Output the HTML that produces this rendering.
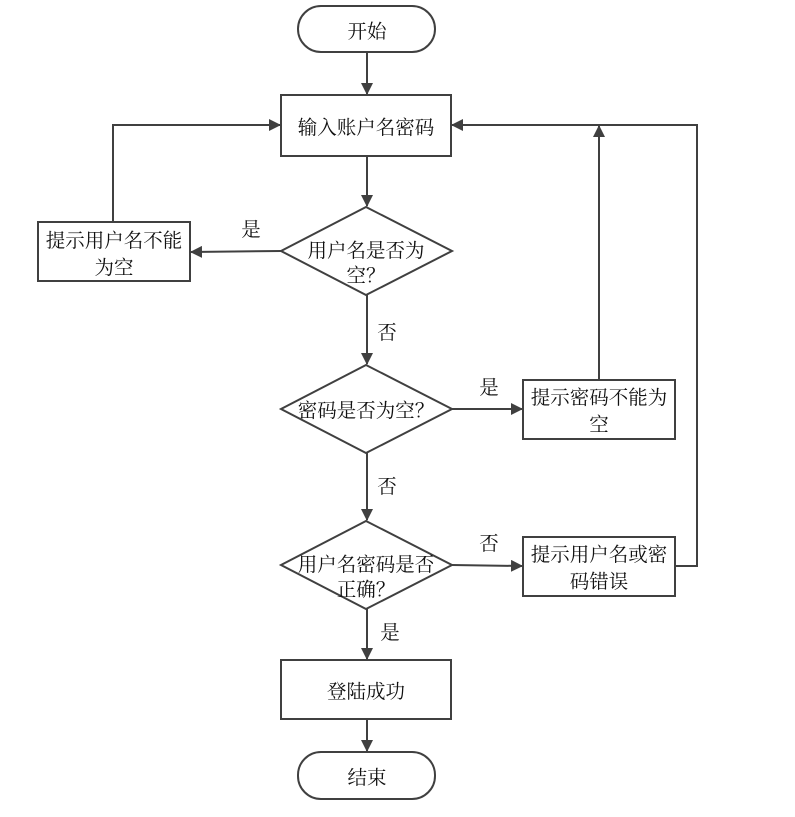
<!DOCTYPE html>
<html><head><meta charset="utf-8"><style>
html,body{margin:0;padding:0;background:#fff;}
svg{display:block;}
text{font-family:"Noto Serif CJK SC","Liberation Serif",serif;font-size:19.5px;fill:#111;text-anchor:middle;}
</style></head><body>
<svg width="795" height="817" viewBox="0 0 795 817">
<defs><marker id="a" markerWidth="12" markerHeight="12" refX="11" refY="6" orient="auto" markerUnits="userSpaceOnUse"><path d="M0,0 L12,6 L0,12 z" fill="#404040"/></marker></defs>
<g stroke="#404040" stroke-width="2" fill="none">
<rect x="298" y="6" width="137" height="46" rx="23"/>
<rect x="281" y="95" width="170" height="61"/>
<polygon points="366,207 452,251 366,295 281,251"/>
<rect x="38" y="222" width="152" height="59"/>
<polygon points="366,365 452,409 366,453 281,409"/>
<rect x="523" y="380" width="152" height="59"/>
<polygon points="366,521 452,565 366,609 281,565"/>
<rect x="523" y="537" width="152" height="59"/>
<rect x="281" y="660" width="170" height="59"/>
<rect x="298" y="752" width="137" height="47" rx="23"/>
<g marker-end="url(#a)">
<line x1="367" y1="52" x2="367" y2="94"/>
<line x1="367" y1="156" x2="367" y2="206"/>
<line x1="281" y1="251" x2="191" y2="252"/>
<polyline points="113,222 113,125 280,125"/>
<line x1="367" y1="295" x2="367" y2="364"/>
<line x1="452" y1="409" x2="522" y2="409"/>
<line x1="599" y1="380" x2="599" y2="126"/>
<line x1="367" y1="453" x2="367" y2="520"/>
<line x1="452" y1="565" x2="522" y2="566"/>
<polyline points="675,566 697,566 697,125 452,125"/>
<line x1="367" y1="609" x2="367" y2="659"/>
<line x1="367" y1="719" x2="367" y2="751"/>
</g></g>
<text x="367" y="38">开始</text>
<text x="366" y="134">输入账户名密码</text>
<text x="366" y="257">用户名是否为</text>
<text x="366" y="282">空？</text>
<text x="114" y="247">提示用户名不能</text>
<text x="114" y="274">为空</text>
<text x="251" y="236">是</text>
<text x="387" y="339">否</text>
<text x="366" y="417">密码是否为空？</text>
<text x="489" y="394">是</text>
<text x="599" y="404">提示密码不能为</text>
<text x="599" y="431">空</text>
<text x="387" y="493">否</text>
<text x="366" y="571">用户名密码是否</text>
<text x="366" y="596">正确？</text>
<text x="489" y="550">否</text>
<text x="599" y="561">提示用户名或密</text>
<text x="599" y="588">码错误</text>
<text x="390" y="639">是</text>
<text x="366" y="698">登陆成功</text>
<text x="367" y="784">结束</text>
</svg>
</body></html>
